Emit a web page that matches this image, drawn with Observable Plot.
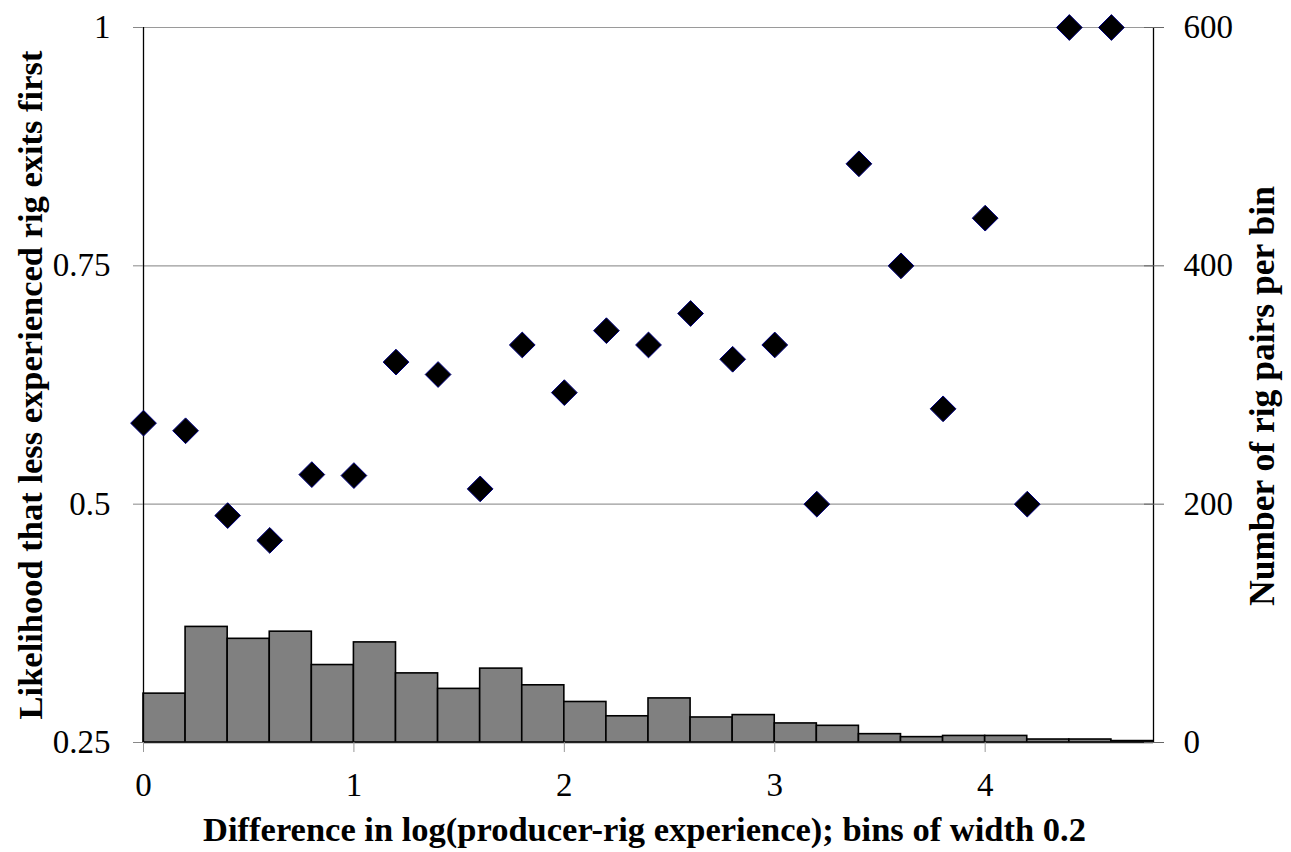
<!DOCTYPE html>
<html>
<head>
<meta charset="utf-8">
<script src="https://cdn.jsdelivr.net/npm/d3@7"></script>
<script src="https://cdn.jsdelivr.net/npm/@observablehq/plot@0.6"></script>
<style>
  html, body { margin: 0; padding: 0; background: #fff; }
  #chart { width: 1291px; height: 852px; }
  #chart svg, #chart svg text { font-family: "Liberation Serif", "Times New Roman", Times, serif !important; }
</style>
</head>
<body>
<div id="chart"></div>
<script>
// Bin starts (bins of width 0.2)
const binStarts = [0, 0.2, 0.4, 0.6, 0.8, 1.0, 1.2, 1.4, 1.6, 1.8, 2.0, 2.2,
                   2.4, 2.6, 2.8, 3.0, 3.2, 3.4, 3.6, 3.8, 4.0, 4.2, 4.4, 4.6];
const binWidth = 0.2;
// Number of rig pairs per bin (right axis)
const pairCounts = [41, 97, 87, 93, 65, 84, 58, 45, 62, 48, 34, 22,
                    37, 21, 23, 16, 14, 7, 4.5, 5.5, 5.5, 2.5, 2.5, 1.2];
// Likelihood that less experienced rig exits first (left axis)
const likelihood = [0.585, 0.577, 0.488, 0.462, 0.531, 0.530, 0.649, 0.636, 0.516, 0.667, 0.617, 0.682,
                    0.667, 0.700, 0.652, 0.667, 0.500, 0.857, 0.750, 0.600, 0.800, 0.500, 1.000, 1.000];

const leftTicks = [0.25, 0.5, 0.75, 1];
const rightTicks = [0, 200, 400, 600];
const xTicks = [0, 1, 2, 3, 4];

const leftDomain = [0.25, 1];
const rightDomain = [0, 600];
// map right-axis (count) values onto the left-axis scale
const toLeft = d3.scaleLinear().domain(rightDomain).range(leftDomain);

const bars = binStarts.map((x, i) => ({x1: x, x2: x + binWidth, y1: leftDomain[0], y2: toLeft(pairCounts[i])}));
const points = binStarts.map((x, i) => ({x, y: likelihood[i]}));
const rightTickPos = rightTicks.map(v => toLeft(v));

const font = "Liberation Serif, Times New Roman, serif";
const tickFont = 33;
const titleFont = 34.5;

const chart = Plot.plot({
  width: 1291,
  height: 852,
  marginLeft: 143,
  marginRight: 138,
  marginTop: 27,
  marginBottom: 110,
  style: {fontFamily: font, background: "#fff", color: "#000"},
  x: {domain: [0, 4.8]},
  y: {domain: leftDomain},
  marks: [
    Plot.gridY(leftTicks.slice(1), {stroke: "#9a9a9a", strokeOpacity: 1, strokeWidth: 1.2}),
    Plot.rect(bars, {x1: "x1", x2: "x2", y1: "y1", y2: "y2", fill: "#808080", stroke: "#000", strokeWidth: 1.6}),
    Plot.ruleY([leftDomain[0]], {stroke: "#222", strokeWidth: 1.4}),
    Plot.ruleX([0], {stroke: "#000", strokeWidth: 1.3}),
    Plot.ruleX([4.8], {stroke: "#000", strokeWidth: 1.3}),
    Plot.axisX({ticks: xTicks, tickSize: 10, tickPadding: 20, fontSize: tickFont, fontFamily: font, stroke: "#999", label: null, tickFormat: d => String(d)}),
    Plot.axisY({anchor: "left", ticks: leftTicks, tickSize: 10, tickPadding: 23, fontSize: tickFont, fontFamily: font, stroke: "#888", label: null, tickFormat: d => String(d)}),
    Plot.axisY({anchor: "right", ticks: rightTickPos, tickSize: 20, dx: -10, stroke: "#666", label: null, tickFormat: () => ""}),
    Plot.axisY({anchor: "right", ticks: rightTickPos, tickSize: 0, tickPadding: 30, fontSize: tickFont, fontFamily: font, label: null, tickFormat: d => String(Math.round(toLeft.invert(d)))}),
    Plot.dot(points, {x: "x", y: "y", symbol: "diamond2", r: 11.6, fill: "#000", stroke: "#000080", strokeWidth: 1}),
    Plot.text(["Likelihood that less experienced rig exits first"], {frameAnchor: "left", textAnchor: "middle", lineAnchor: "middle", rotate: -90, dx: -113, fontSize: titleFont, fontFamily: font, fontWeight: "bold", fill: "#000"}),
    Plot.text(["Number of rig pairs per bin"], {frameAnchor: "right", textAnchor: "middle", lineAnchor: "middle", rotate: -90, dx: 109, dy: 11, fontSize: 35.5, fontFamily: font, fontWeight: "bold", fill: "#000"}),
    Plot.text(["Difference in log(producer-rig experience); bins of width 0.2"], {frameAnchor: "bottom", textAnchor: "middle", lineAnchor: "middle", dy: 87, dx: -4, fontSize: titleFont, fontFamily: font, fontWeight: "bold", fill: "#000"})
  ]
});
document.getElementById("chart").appendChild(chart);
</script>
</body>
</html>
